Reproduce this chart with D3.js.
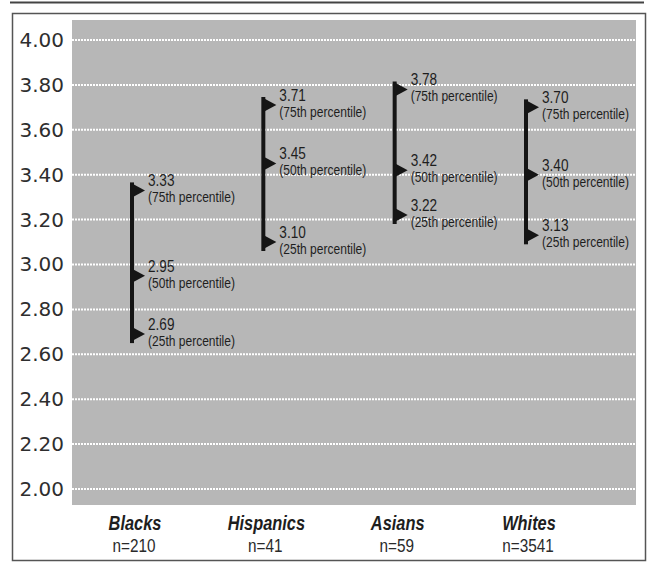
<!DOCTYPE html>
<html>
<head>
<meta charset="utf-8">
<script src="https://cdn.jsdelivr.net/npm/d3@7/dist/d3.min.js"></script>
<style>
  html, body { margin: 0; padding: 0; background: #ffffff; }
  svg { display: block; }
</style>
</head>
<body>
<svg id="chart" width="651" height="563"></svg>
<script>
// ---- data ----
const categories = ["Blacks", "Hispanics", "Asians", "Whites"];
const sampleSizes = ["n=210", "n=41", "n=59", "n=3541"];
const p25 = [2.69, 3.10, 3.22, 3.13];
const p50 = [2.95, 3.45, 3.42, 3.40];
const p75 = [3.33, 3.71, 3.78, 3.70];
const percentileNames = ["(25th percentile)", "(50th percentile)", "(75th percentile)"];
const tickValues = [2.00, 2.20, 2.40, 2.60, 2.80, 3.00, 3.20, 3.40, 3.60, 3.80, 4.00];

// ---- layout ----
const svg = d3.select("#chart");
const plot = { left: 72, right: 636, top: 20, bottom: 505 };
const narrow = "'Liberation Sans', Arial, sans-serif";

const y = d3.scaleLinear().domain([2, 4]).range([489, 40]);
const x = d3.scalePoint().domain(categories).range([132, 526]);

// top rule and frame
svg.append("line")
  .attr("x1", 10).attr("x2", 644).attr("y1", 2.5).attr("y2", 2.5)
  .attr("stroke", "#444").attr("stroke-width", 2);
svg.append("rect")
  .attr("x", 12.5).attr("y", 13.5).attr("width", 633).attr("height", 547)
  .attr("fill", "none").attr("stroke", "#555").attr("stroke-width", 1.5);

// plot background
svg.append("rect")
  .attr("x", plot.left).attr("y", plot.top)
  .attr("width", plot.right - plot.left).attr("height", plot.bottom - plot.top)
  .attr("fill", "#b7b7b7");

// gridlines
svg.append("g").selectAll("line").data(tickValues).join("line")
  .attr("x1", plot.left).attr("x2", plot.right)
  .attr("y1", d => y(d)).attr("y2", d => y(d))
  .attr("stroke", "#ffffff").attr("stroke-width", 2)
  .attr("stroke-dasharray", "2,1");

// y axis
const yAxis = svg.append("g")
  .attr("transform", "translate(64,0)")
  .call(d3.axisLeft(y).tickValues(tickValues).tickFormat(d3.format(".2f")).tickSize(0).tickPadding(0));
yAxis.select(".domain").remove();
yAxis.selectAll("text")
  .attr("font-family", "'DejaVu Sans', sans-serif")
  .attr("font-size", 20)
  .attr("fill", "#2e2e2e");

// per-category marks
const rows = categories.map((c, i) => ({
  cat: c, n: sampleSizes[i],
  pts: [
    { v: p75[i], name: percentileNames[2] },
    { v: p50[i], name: percentileNames[1] },
    { v: p25[i], name: percentileNames[0] }
  ],
  lo: p25[i], hi: p75[i]
}));

const g = svg.append("g").selectAll("g").data(rows).join("g")
  .attr("transform", d => `translate(${x(d.cat)},0)`);

g.append("line")
  .attr("x1", 0).attr("x2", 0)
  .attr("y1", d => y(d.hi) - 8).attr("y2", d => y(d.lo) + 9)
  .attr("stroke", "#151515").attr("stroke-width", 4);

const pts = g.selectAll("g.pt").data(d => d.pts).join("g").attr("class", "pt");

pts.append("path")
  .attr("d", d => { const yy = y(d.v); return `M0,${yy - 7}L13,${yy}L0,${yy + 7}Z`; })
  .attr("fill", "#151515");

pts.append("text")
  .attr("transform", d => `translate(16,${y(d.v) - 4}) scale(0.85,1)`)
  .attr("font-family", narrow)
  .attr("font-size", 16)
  .attr("fill", "#1e1e1e")
  .text(d => d.v.toFixed(2));

pts.append("text")
  .attr("transform", d => `translate(16,${y(d.v) + 12}) scale(0.86,1)`)
  .attr("font-family", narrow)
  .attr("font-size", 14)
  .attr("fill", "#1e1e1e")
  .text(d => d.name);

// category labels
g.append("text")
  .attr("transform", "translate(3,530) scale(0.82,1)")
  .attr("text-anchor", "middle")
  .attr("font-family", narrow)
  .attr("font-weight", "bold").attr("font-style", "italic")
  .attr("font-size", 20)
  .attr("fill", "#1e1e1e")
  .text(d => d.cat);

g.append("text")
  .attr("transform", "translate(2,552) scale(0.85,1)")
  .attr("text-anchor", "middle")
  .attr("font-family", narrow)
  .attr("font-size", 18)
  .attr("fill", "#2a2a2a")
  .text(d => d.n);
</script>
</body>
</html>
